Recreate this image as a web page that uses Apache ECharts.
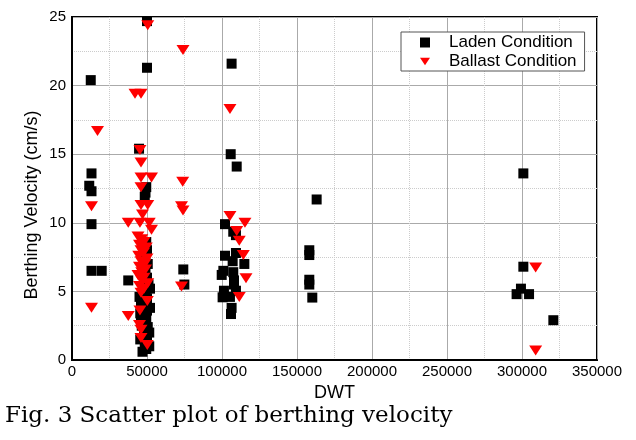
<!DOCTYPE html>
<html>
<head>
<meta charset="utf-8">
<script src="https://cdn.jsdelivr.net/npm/echarts@6/dist/echarts.min.js"></script>
<style>html,body{margin:0;padding:0;background:#fff;}#chart{width:636px;height:440px;}</style>
</head>
<body>
<div id="chart"></div>
<script>
// Laden condition: DWT and berthing velocity (cm/s)
const ladenDWT = [12500,13000,11500,13000,13000,13000,19800,
  50000,50000,44700,49500,49000,48500,37500,74200,74900,
  49500,48500,50000,49000,48500,50500,49000,48000,50000,49500,48000,51000,49000,48500,50000,49000,47500,50000,48500,49500,48000,50500,49000,48000,50000,49000,48500,47000,49500,45000,52000,46000,51500,
  45500,46500,45500,46000,52000,51500,
  106400,105800,109800,102000,107500,109300,102000,109300,107100,114900,100900,99800,107500,108000,108000,101300,109300,100400,105300,106400,106000,
  163100,158200,158200,158200,158200,160200,
  300900,300900,299300,296400,304700,320900];
const ladenVel = [20.4,13.6,12.7,12.3,9.9,6.5,6.5,
  24.7,21.3,15.4,12.6,12.2,11.9,5.8,6.6,5.5,
  8.6,8.3,8.0,7.6,7.3,7.0,6.7,6.4,6.0,5.7,5.4,5.5,5.1,4.8,4.5,4.2,3.9,3.6,3.3,3.0,2.7,2.4,2.1,1.8,1.5,1.2,0.9,0.6,0.8,4.6,3.8,2.9,2.0,
  1.5,2.5,3.4,4.2,5.2,1.0,
  21.6,15.0,14.1,9.9,9.35,9.1,7.6,7.8,7.2,7.0,6.5,6.2,6.4,5.8,5.5,5.05,5.05,4.57,4.6,3.8,3.35,
  11.7,8.0,7.65,5.85,5.5,4.55,
  13.6,6.8,5.2,4.8,4.8,2.9];
// Ballast condition
const ballastDWT = [17000,13000,13000,
  50500,42000,46000,74000,45300,46000,46000,53000,46000,46000,50500,73800,73000,74000,37500,45300,51500,53000,47000,
  44000,46500,48000,45000,49500,46000,47500,44500,50000,46000,48500,45000,49000,46500,44000,48000,46500,50500,45000,48000,46000,
  73000,37500,45300,50200,45000,46000,50200,46000,
  105300,115300,109800,111500,114200,116000,111500,105300,
  309100,309100];
const ballastVel = [16.7,11.2,3.8,
  24.4,19.4,19.4,22.6,15.3,14.4,13.3,13.3,12.6,11.3,11.3,13.0,11.2,10.9,10.0,10.0,10.0,9.5,10.6,
  9.0,8.8,8.6,8.4,8.2,8.0,7.8,7.6,7.4,7.2,7.0,6.8,6.6,6.4,6.2,6.0,5.8,5.6,5.4,5.2,4.9,
  5.35,3.2,3.6,4.3,2.55,1.6,1.1,2.2,
  10.5,10.0,9.4,8.7,7.65,5.95,4.6,18.3,
  6.75,0.7];
const xTicks = [0,50000,100000,150000,200000,250000,300000,350000];
const yTicks = [0,5,10,15,20,25];

const tri = 'path://M0,0 L12,0 L6,9 Z';
const chart = echarts.init(document.getElementById('chart'), null, {renderer:'canvas'});
const font = 'Liberation Sans, Arial, sans-serif';
chart.setOption({
  animation:false,
  backgroundColor:'#fff',
  grid:{left:72, top:17, right:39, bottom:80, show:true, borderColor:'#000', borderWidth:2},
  legend:{
    orient:'vertical', left:401, top:32, padding:[2,8,1,19], itemGap:2,
    borderColor:'#555', borderWidth:1, backgroundColor:'#fff',
    itemWidth:10, itemHeight:10,
    textStyle:{fontFamily:font, fontSize:17, color:'#000', padding:[0,0,0,14]},
    data:[{name:'Laden Condition', icon:'rect'},{name:'Ballast Condition', icon:tri}]
  },
  xAxis:{
    type:'value', min:xTicks[0], max:xTicks[xTicks.length-1], interval:50000,
    name:'DWT', nameLocation:'middle', nameGap:24, nameMoveOverlap:false,
    nameTextStyle:{fontFamily:font, fontSize:18, color:'#000'},
    axisLine:{show:true, lineStyle:{color:'#000', width:2}},
    axisTick:{show:false},
    axisLabel:{fontFamily:font, fontSize:15, color:'#000', margin:4, formatter:v=>String(v)},
    splitLine:{show:true, lineStyle:{color:'#aaa', width:1}},
    minorTick:{show:false, splitNumber:2},
    minorSplitLine:{show:true, lineStyle:{color:'#ccc', type:'dotted', width:1}}
  },
  yAxis:{
    type:'value', min:yTicks[0], max:yTicks[yTicks.length-1], interval:5,
    axisLine:{show:true, lineStyle:{color:'#000', width:2}},
    axisTick:{show:false},
    axisLabel:{fontFamily:font, fontSize:15, color:'#000', margin:6},
    splitLine:{show:true, lineStyle:{color:'#aaa', width:1}},
    minorTick:{show:false, splitNumber:2},
    minorSplitLine:{show:true, lineStyle:{color:'#ccc', type:'dotted', width:1}}
  },
  graphic:[{
    type:'text', x:32, y:205, rotation:Math.PI/2,
    style:{text:'Berthing Velocity (cm/s)', font:'18px "Liberation Sans", Arial, sans-serif', fill:'#000', align:'center', verticalAlign:'middle'}
  },{
    type:'text', left:5, top:405,
    style:{text:'Fig. 3 Scatter plot of berthing velocity', font:'23px "DejaVu Serif", "Liberation Serif", serif', fill:'#000'}
  }],
  series:[
    {name:'Laden Condition', type:'scatter', symbol:'rect', symbolSize:10,
     itemStyle:{color:'#000', opacity:1},
     data: ladenDWT.map((d,i)=>[d, ladenVel[i]])},
    {name:'Ballast Condition', type:'scatter', symbol:tri, symbolSize:[13,10],
     itemStyle:{color:'#ff0000', opacity:1},
     data: ballastDWT.map((d,i)=>[d, ballastVel[i]])}
  ]
});
</script>
</body>
</html>
